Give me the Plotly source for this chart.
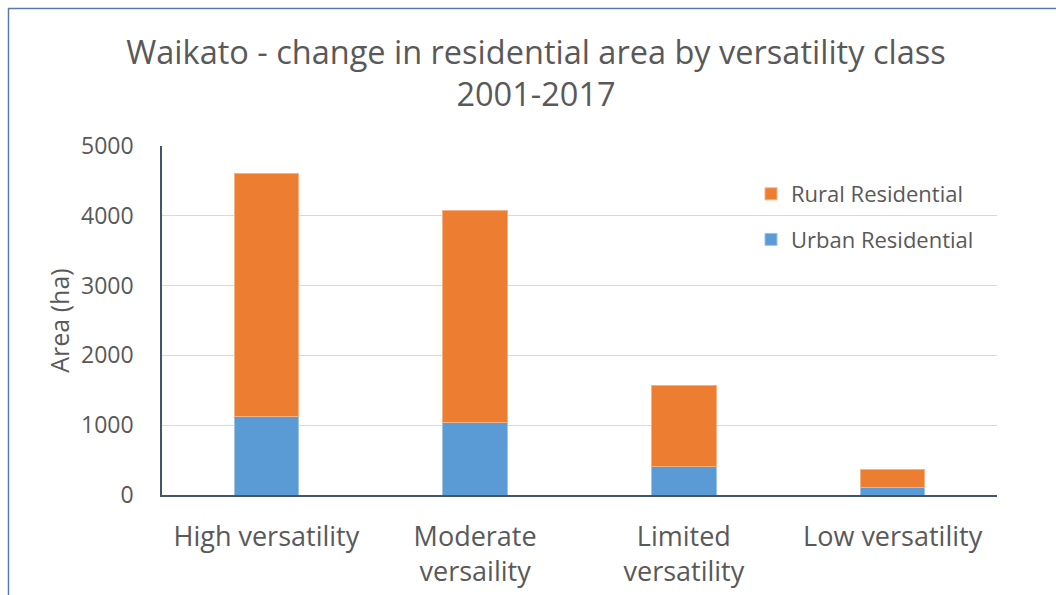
import plotly.graph_objects as go

categories = ["High versatility", "Moderate<br>versaility", "Limited<br>versatility", "Low versatility"]
urban_residential = [1120, 1035, 412, 103]
rural_residential = [3480, 3035, 1150, 267]
y_ticks = [0, 1000, 2000, 3000, 4000, 5000]

W, H = 1056, 595
L, R, T, B = 162, 59, 146, 100
pw, ph = W - L - R, H - T - B

fig = go.Figure()
fig.add_bar(x=categories, y=urban_residential, name="Urban Residential", legendrank=2,
            legendgroup="u",
            marker=dict(color="#5B9BD5", line=dict(color="#9DC3E6", width=1)))
fig.add_bar(x=categories, y=rural_residential, name="Rural Residential", legendrank=1,
            legendgroup="r",
            marker=dict(color="#ED7D31", line=dict(color="#F4B183", width=1)))

font_family = "Open Sans"
grey = "#595959"

fig.update_layout(
    width=W, height=H,
    barmode="stack", bargap=0.69,
    paper_bgcolor="white", plot_bgcolor="white",
    margin=dict(l=L, r=R, t=T, b=B, autoexpand=False),
    font=dict(family=font_family, color=grey),
    title=dict(text="Waikato - change in residential area by versatility class<br>2001-2017",
               x=536 / W, xanchor="center", y=1 - 64 / H, yanchor="middle",
               font=dict(size=32.5, color=grey, family=font_family)),
    legend=dict(x=(751 - L) / pw, y=1 - (173 - T) / ph, xanchor="left", yanchor="top",
                traceorder="grouped", font=dict(size=22, color=grey),
                bgcolor="rgba(0,0,0,0)", itemwidth=30, tracegroupgap=14),
    xaxis=dict(showgrid=False, showline=True, linecolor="#44546A", linewidth=1.5,
               tickfont=dict(size=27, color=grey), ticks="", ticklabelstandoff=17,
               automargin=False),
    yaxis=dict(range=[0, 5000], tickvals=y_ticks, showgrid=True, gridcolor="#D9D9D9",
               gridwidth=1, showline=True, linecolor="#44546A", linewidth=1.5,
               tickfont=dict(size=23, color=grey), ticks="", ticklabelstandoff=22,
               title=dict(text="Area (ha)", font=dict(size=25, color=grey), standoff=4),
               zeroline=False, automargin=False),
    shapes=[dict(type="rect", xref="paper", yref="paper",
                 x0=(8.5 - L) / pw, x1=(1080 - L) / pw,
                 y0=(H - T - 620) / ph, y1=1 + (T - 8.5) / ph,
                 line=dict(color="#5A7BA6", width=1.5), fillcolor="rgba(0,0,0,0)", layer="below")],
)

fig.write_html("out.html", config={"displayModeBar": False},
               post_script="document.body.style.margin='0';document.body.style.overflow='hidden';")
